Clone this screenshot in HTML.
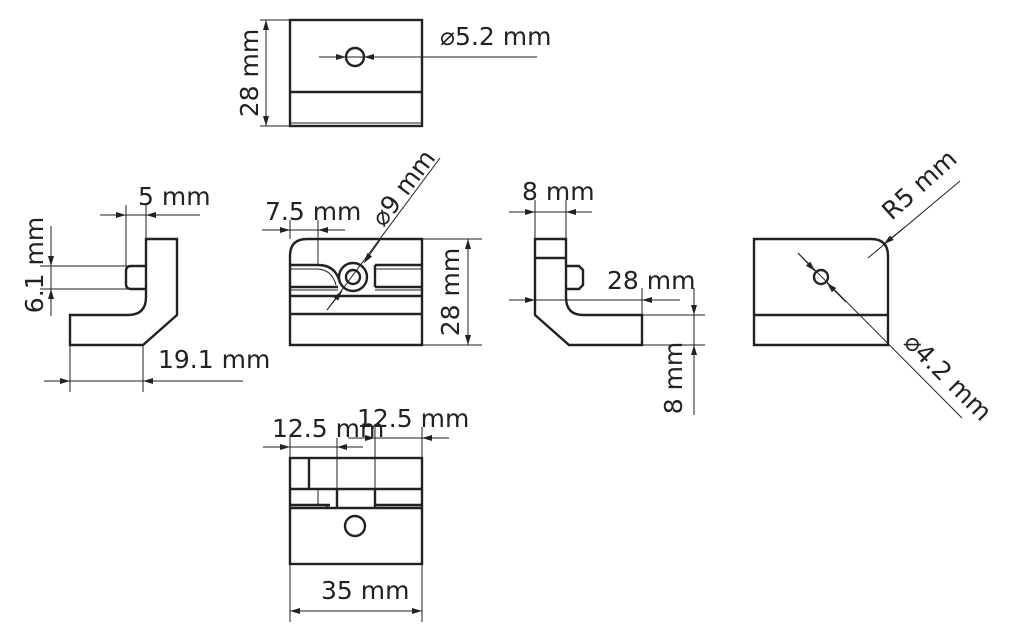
<!DOCTYPE html>
<html><head><meta charset="utf-8"><style>
html,body{margin:0;padding:0;background:#fff;}
svg{display:block}
text{font-family:"DejaVu Sans","Liberation Sans",sans-serif;font-size:25px;fill:#222}
.o{fill:none;stroke:#222;stroke-width:2.4}
.d{fill:none;stroke:#222;stroke-width:1}
</style></head><body>
<svg width="1010" height="642" viewBox="0 0 1010 642" xmlns="http://www.w3.org/2000/svg">
<defs>
<marker id="a" viewBox="0 0 10 6" refX="10" refY="3" markerWidth="12" markerHeight="6" orient="auto-start-reverse" markerUnits="userSpaceOnUse"><path d="M0,0L10,3L0,6z" fill="#222"/></marker>
</defs>

<!-- TOP VIEW -->
<rect class="o" x="290" y="20" width="132" height="106"/>
<line class="o" x1="290" y1="92" x2="422" y2="92"/>
<line class="d" x1="290" y1="123" x2="422" y2="123"/>
<circle class="o" cx="355" cy="57" r="9"/>
<line class="d" x1="319" y1="57" x2="537" y2="57"/>
<line class="d" x1="320" y1="57" x2="346" y2="57" marker-end="url(#a)"/>
<line class="d" x1="390" y1="57" x2="364" y2="57" marker-end="url(#a)"/>
<text x="440" y="45">⌀5.2 mm</text>
<line class="d" x1="260" y1="20" x2="290" y2="20"/>
<line class="d" x1="260" y1="126" x2="290" y2="126"/>
<line class="d" x1="266" y1="20" x2="266" y2="126" marker-start="url(#a)" marker-end="url(#a)"/>
<text transform="translate(258,73) rotate(-90)" text-anchor="middle">28 mm</text>

<!-- LEFT L VIEW -->
<path class="o" d="M146,239 L177,239 L177,315 L143,345 L70,345 L70,315 L128,315 Q146,315 146,297 Z"/>
<path class="o" d="M146,266 L131,266 Q126,266 126,271 L126,284 Q126,289 131,289 L146,289"/>
<line class="d" x1="40" y1="266" x2="146" y2="266"/>
<line class="d" x1="40" y1="289" x2="146" y2="289"/>
<line class="d" x1="51" y1="226" x2="51" y2="316"/>
<line class="d" x1="51" y1="240" x2="51" y2="266" marker-end="url(#a)"/>
<line class="d" x1="51" y1="315" x2="51" y2="289" marker-end="url(#a)"/>
<text transform="translate(43,265) rotate(-90)" text-anchor="middle">6.1 mm</text>
<line class="d" x1="126" y1="205" x2="126" y2="266"/>
<line class="d" x1="146" y1="205" x2="146" y2="239"/>
<line class="d" x1="100" y1="215" x2="200" y2="215"/>
<line class="d" x1="100" y1="215" x2="126" y2="215" marker-end="url(#a)"/>
<line class="d" x1="172" y1="215" x2="146" y2="215" marker-end="url(#a)"/>
<text x="138" y="205">5 mm</text>
<line class="d" x1="70" y1="345" x2="70" y2="392"/>
<line class="d" x1="143" y1="345" x2="143" y2="392"/>
<line class="d" x1="44" y1="381" x2="243" y2="381"/>
<line class="d" x1="44" y1="381" x2="70" y2="381" marker-end="url(#a)"/>
<line class="d" x1="170" y1="381" x2="143" y2="381" marker-end="url(#a)"/>
<text x="158" y="368">19.1 mm</text>

<!-- FRONT VIEW -->
<path class="o" d="M290,345 L290,256 Q290,239 307,239 L422,239 L422,345 Z"/>
<path class="o" d="M290,265 L318,265 Q336,265 340,283"/>
<path class="d" d="M290,269 L318,269 Q332,270 336,285"/>
<line class="o" x1="290" y1="287" x2="338" y2="287"/>
<line class="d" x1="290" y1="290" x2="338" y2="290"/>
<line class="o" x1="375" y1="265" x2="422" y2="265"/>
<line class="d" x1="375" y1="269" x2="422" y2="269"/>
<line class="o" x1="375" y1="287" x2="422" y2="287"/>
<line class="d" x1="375" y1="290" x2="422" y2="290"/>
<line class="o" x1="375" y1="265" x2="375" y2="287"/>
<line class="o" x1="290" y1="296" x2="422" y2="296"/>
<line class="o" x1="290" y1="314" x2="422" y2="314"/>
<circle class="o" cx="353" cy="277" r="14"/>
<circle class="o" cx="353" cy="277" r="7"/>
<line class="d" x1="327" y1="310" x2="440" y2="158"/>
<line class="d" x1="327" y1="310" x2="342" y2="291" marker-end="url(#a)"/>
<line class="d" x1="380" y1="240" x2="364" y2="263" marker-end="url(#a)"/>
<text transform="translate(410,193) rotate(-53)" text-anchor="middle">⌀9 mm</text>
<line class="d" x1="290" y1="220" x2="290" y2="239"/>
<line class="d" x1="318" y1="220" x2="318" y2="265"/>
<line class="d" x1="262" y1="230" x2="345" y2="230"/>
<line class="d" x1="262" y1="230" x2="290" y2="230" marker-end="url(#a)"/>
<line class="d" x1="345" y1="230" x2="318" y2="230" marker-end="url(#a)"/>
<text x="265" y="220">7.5 mm</text>
<line class="d" x1="422" y1="239" x2="482" y2="239"/>
<line class="d" x1="422" y1="345" x2="482" y2="345"/>
<line class="d" x1="468" y1="239" x2="468" y2="345" marker-start="url(#a)" marker-end="url(#a)"/>
<text transform="translate(459,292) rotate(-90)" text-anchor="middle">28 mm</text>

<!-- RIGHT L VIEW -->
<path class="o" d="M535,315 L535,239 L566,239 L566,297 Q566,315 583,315 L642,315 L642,345 L569,345 Z"/>
<line class="o" x1="535" y1="258" x2="566" y2="258"/>
<path class="o" d="M566,266 L579,266 L583,270 L583,285 L579,289 L566,289"/>
<line class="d" x1="535" y1="200" x2="535" y2="239"/>
<line class="d" x1="566" y1="200" x2="566" y2="239"/>
<line class="d" x1="509" y1="212" x2="592" y2="212"/>
<line class="d" x1="509" y1="212" x2="535" y2="212" marker-end="url(#a)"/>
<line class="d" x1="592" y1="212" x2="566" y2="212" marker-end="url(#a)"/>
<text x="522" y="200">8 mm</text>
<line class="d" x1="642" y1="288" x2="642" y2="315"/>
<line class="d" x1="509" y1="300" x2="680" y2="300"/>
<line class="d" x1="509" y1="300" x2="535" y2="300" marker-end="url(#a)"/>
<line class="d" x1="668" y1="300" x2="642" y2="300" marker-end="url(#a)"/>
<text x="607" y="289">28 mm</text>
<line class="d" x1="642" y1="315" x2="705" y2="315"/>
<line class="d" x1="642" y1="345" x2="705" y2="345"/>
<line class="d" x1="694" y1="288" x2="694" y2="415"/>
<line class="d" x1="694" y1="288" x2="694" y2="315" marker-end="url(#a)"/>
<line class="d" x1="694" y1="372" x2="694" y2="345" marker-end="url(#a)"/>
<text transform="translate(682,378) rotate(-90)" text-anchor="middle">8 mm</text>

<!-- RIGHT VIEW -->
<path class="o" d="M754,239 L871,239 Q888,239 888,256 L888,345 L754,345 Z"/>
<line class="o" x1="754" y1="315" x2="888" y2="315"/>
<circle class="o" cx="821" cy="277" r="7"/>
<line class="d" x1="798" y1="253" x2="962" y2="418"/>
<line class="d" x1="798" y1="253" x2="815" y2="271" marker-end="url(#a)"/>
<line class="d" x1="846" y1="302" x2="827" y2="283" marker-end="url(#a)"/>
<line class="d" x1="868" y1="258" x2="960" y2="181"/>
<line class="d" x1="905" y1="227" x2="884" y2="244" marker-end="url(#a)"/>
<text transform="translate(925,191) rotate(-42)" text-anchor="middle">R5 mm</text>
<text transform="translate(942,383) rotate(45)" text-anchor="middle">⌀4.2 mm</text>

<!-- BOTTOM VIEW -->
<rect class="o" x="290" y="458" width="132" height="106"/>
<line class="o" x1="290" y1="489" x2="422" y2="489"/>
<line class="o" x1="290" y1="505" x2="330" y2="505"/>
<line class="o" x1="375" y1="505" x2="422" y2="505"/>
<line class="o" x1="290" y1="508" x2="422" y2="508"/>
<line class="o" x1="309" y1="458" x2="309" y2="489"/>
<line class="o" x1="337" y1="489" x2="337" y2="508"/>
<line class="o" x1="375" y1="489" x2="375" y2="508"/>
<path class="d" d="M318,489 L318,504 Q326,505 330,508"/>
<line class="d" x1="337" y1="438" x2="337" y2="489"/>
<line class="d" x1="375" y1="427" x2="375" y2="489"/>
<line class="d" x1="290" y1="436" x2="290" y2="458"/>
<line class="d" x1="422" y1="427" x2="422" y2="458"/>
<circle class="o" cx="355" cy="526" r="10"/>
<line class="d" x1="263" y1="447" x2="363" y2="447"/>
<line class="d" x1="263" y1="447" x2="290" y2="447" marker-end="url(#a)"/>
<line class="d" x1="363" y1="447" x2="337" y2="447" marker-end="url(#a)"/>
<line class="d" x1="348" y1="438" x2="449" y2="438"/>
<line class="d" x1="348" y1="438" x2="375" y2="438" marker-end="url(#a)"/>
<line class="d" x1="449" y1="438" x2="422" y2="438" marker-end="url(#a)"/>
<text x="272" y="437">12.5 mm</text>
<text x="357" y="427">12.5 mm</text>
<line class="d" x1="290" y1="564" x2="290" y2="622"/>
<line class="d" x1="422" y1="564" x2="422" y2="622"/>
<line class="d" x1="290" y1="611" x2="422" y2="611" marker-start="url(#a)" marker-end="url(#a)"/>
<text x="321" y="599">35 mm</text>
</svg>
</body></html>
